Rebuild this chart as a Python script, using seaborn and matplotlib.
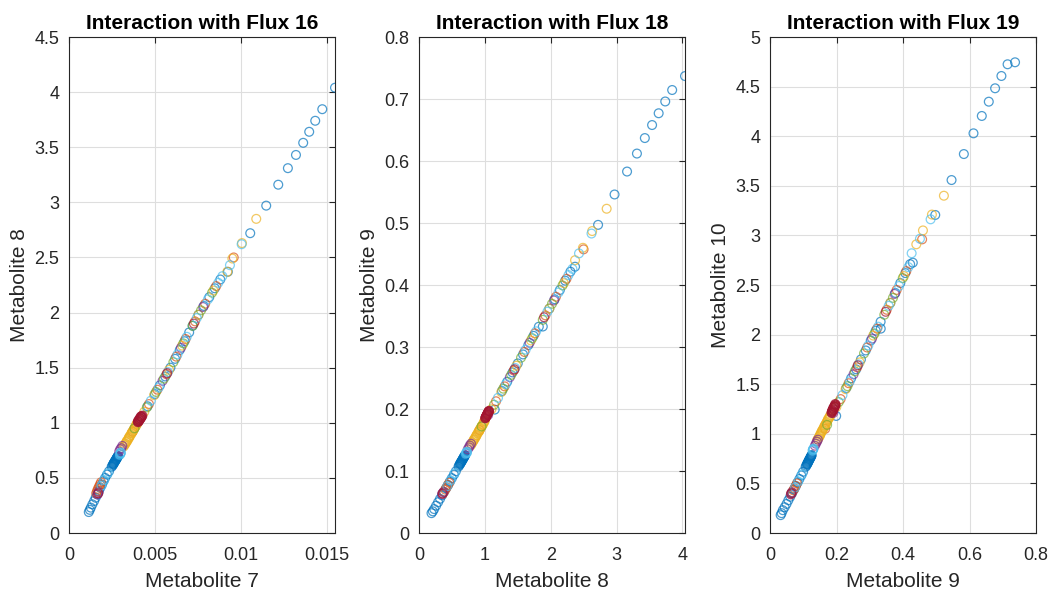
import matplotlib
matplotlib.use("Agg")
import numpy as np
import pandas as pd
import matplotlib.pyplot as plt
import seaborn as sns
from matplotlib.ticker import FixedLocator, FixedFormatter

sns.set_theme(style="white")
plt.rcParams['font.family'] = ['Liberation Sans', 'DejaVu Sans']

# ---------------- data (sample concentrations) ----------------
blue_m8 = [4.04, 3.845, 3.74, 3.64, 3.54, 3.43, 3.31, 3.16, 2.97, 2.72, 2.37,
           2.30, 2.22, 2.14, 2.06, 1.98, 1.88, 1.82, 1.74, 1.66, 1.58, 1.50, 1.42, 1.34, 1.26, 1.15,
           0.70, 0.69, 0.68, 0.67, 0.66, 0.65, 0.64, 0.63, 0.62, 0.60,
           0.695, 0.685, 0.675, 0.665, 0.655, 0.645, 0.635, 0.625, 0.61,
           0.56, 0.53, 0.50, 0.47, 0.44, 0.41, 0.38, 0.35, 0.32, 0.29, 0.26, 0.23, 0.21, 0.19]
blue_m7 = [0.01547, 0.01473, 0.01432, 0.01397, 0.01362, 0.01320, 0.01273, 0.01217, 0.01147, 0.01054, 0.00924,
           0.00880, 0.00848, 0.00816, 0.00784, 0.00753, 0.00719, 0.00699, 0.00672, 0.00644, 0.00617, 0.00590,
           0.00560, 0.00529, 0.00499, 0.00457,
           0.00286, 0.00282, 0.00278, 0.00275, 0.00271, 0.00267, 0.00263, 0.00259, 0.00256, 0.00248,
           0.00283, 0.00281, 0.00276, 0.00273, 0.00269, 0.00265, 0.00261, 0.00258, 0.00252,
           0.00233, 0.00221, 0.00210, 0.00201, 0.00192, 0.00182, 0.00173, 0.00164, 0.00155, 0.00146,
           0.00136, 0.00127, 0.00121, 0.00115]
blue_m9 = [0.737, 0.7145, 0.696, 0.677, 0.658, 0.637, 0.612, 0.583, 0.546, 0.497, 0.4295,
           0.4215, 0.407, 0.392, 0.377, 0.362, 0.333, 0.3327, 0.318, 0.303, 0.288, 0.2735, 0.259, 0.244, 0.229, 0.199,
           0.1255, 0.1237, 0.1218, 0.120, 0.1181, 0.1163, 0.1144, 0.1126, 0.1107, 0.107,
           0.1245, 0.1228, 0.121, 0.119, 0.117, 0.1155, 0.1135, 0.1117, 0.109,
           0.0996, 0.094, 0.0885, 0.083, 0.0774, 0.0719, 0.0663, 0.0608, 0.0552, 0.0497, 0.0441, 0.0386, 0.0349, 0.032]
blue_m10 = [4.745, 4.725, 4.607, 4.483, 4.348, 4.204, 4.029, 3.82, 3.558, 3.206, 2.725,
            2.71, 2.62, 2.52, 2.42, 2.32, 2.06, 2.13, 2.04, 1.94, 1.84, 1.75, 1.65, 1.56, 1.46, 1.18,
            0.786, 0.774, 0.762, 0.75, 0.738, 0.726, 0.714, 0.70, 0.69, 0.666,
            0.78, 0.768, 0.756, 0.744, 0.732, 0.72, 0.707, 0.695, 0.678,
            0.617, 0.58, 0.545, 0.51, 0.473, 0.437, 0.40, 0.365, 0.33, 0.293, 0.26, 0.23, 0.20, 0.18]

orange_m8 = [2.50, 2.24, 2.08, 1.92, 1.76, 1.60, 1.44, 1.30, 1.17, 0.92, 0.46, 0.44, 0.42, 0.40, 0.38, 0.36]
orange_m7 = [0.00958, 0.00856, 0.00792, 0.00733, 0.00678, 0.00624, 0.00567, 0.00514, 0.00465, 0.00370,
             0.00186, 0.00180, 0.00174, 0.00168, 0.00163, 0.00158]
orange_m9 = [0.4575, 0.410, 0.381, 0.351, 0.322, 0.292, 0.262, 0.2365, 0.2125, 0.166,
             0.081, 0.0774, 0.0737, 0.070, 0.0665, 0.063]
orange_m10 = [2.96, 2.64, 2.45, 2.25, 2.06, 1.87, 1.67, 1.51, 1.35, 1.05, 0.50, 0.475, 0.45, 0.43, 0.41, 0.39]

yellow_m8 = [2.85, 2.63, 2.49, 2.37, 2.20, 1.98, 1.70, 1.48, 1.25, 1.10,
             1.00, 0.985, 0.962, 0.943, 0.918, 0.905, 0.877, 0.862, 0.838, 0.824, 0.797, 0.783,
             0.99, 0.97, 0.95, 0.93, 0.91, 0.89, 0.87, 0.85, 0.83, 0.81]
yellow_m7 = [0.01089, 0.01006, 0.00950, 0.00921, 0.00840, 0.00753, 0.00658, 0.00582, 0.00495, 0.00438,
             0.00400, 0.00394, 0.00385, 0.00378, 0.00369, 0.00364, 0.00353, 0.00348, 0.00338, 0.00333, 0.00323, 0.00317,
             0.00393, 0.00389, 0.00380, 0.00374, 0.00365, 0.00359, 0.00350, 0.00344, 0.00336, 0.00328]
yellow_m9 = [0.523, 0.487, 0.460, 0.440, 0.403, 0.362, 0.3105, 0.2698, 0.2273, 0.1995,
             0.181, 0.178, 0.174, 0.170, 0.166, 0.163, 0.158, 0.155, 0.151, 0.148, 0.143, 0.141,
             0.180, 0.175, 0.172, 0.168, 0.164, 0.161, 0.157, 0.153, 0.150, 0.146]
yellow_m10 = [3.40, 3.21, 3.05, 2.91, 2.59, 2.32, 1.99, 1.72, 1.45, 1.27,
              1.186, 1.165, 1.14, 1.115, 1.088, 1.068, 1.04, 1.02, 0.993, 0.972, 0.944, 0.925,
              1.17, 1.15, 1.125, 1.10, 1.08, 1.055, 1.03, 1.005, 0.98, 0.955]

purple_m8 = [2.05, 1.68, 1.38, 1.05, 0.79, 0.77, 0.76, 0.74, 0.37, 0.35]
purple_m7 = [0.00780, 0.00651, 0.00544, 0.00419, 0.00310, 0.00304, 0.00298, 0.00292, 0.00172, 0.00166]
purple_m9 = [0.375, 0.3068, 0.2513, 0.1903, 0.144, 0.141, 0.138, 0.135, 0.066, 0.063]
purple_m10 = [2.41, 1.96, 1.60, 1.21, 0.94, 0.92, 0.90, 0.88, 0.41, 0.39]

green_m8 = [2.18, 2.02, 1.88, 1.72, 1.55, 1.40, 1.28, 1.14, 0.95]
green_m7 = [0.00832, 0.00768, 0.00719, 0.00665, 0.00607, 0.00552, 0.00506, 0.00453, 0.00381]
green_m9 = [0.3993, 0.3697, 0.3438, 0.3142, 0.2828, 0.255, 0.2328, 0.2069, 0.1718]
green_m10 = [2.57, 2.37, 2.20, 2.01, 1.81, 1.63, 1.48, 1.32, 1.09]

cyan_m8 = [2.62, 2.43, 2.33, 2.27, 2.12, 1.95, 1.78, 1.62, 1.46, 1.32, 1.20, 0.73, 0.725, 0.72, 0.71, 0.54, 0.48, 0.43]
cyan_m7 = [0.01004, 0.00936, 0.00892, 0.00868, 0.00808, 0.00743, 0.00685, 0.00631, 0.00575, 0.00522, 0.00476,
           0.00302, 0.00300, 0.00299, 0.00296, 0.00225, 0.00204, 0.00189]
cyan_m9 = [0.483, 0.451, 0.426, 0.416, 0.388, 0.357, 0.3253, 0.2957, 0.2661, 0.2402, 0.218,
           0.131, 0.129, 0.130, 0.128, 0.0959, 0.0848, 0.0756]
cyan_m10 = [3.162, 2.966, 2.82, 2.68, 2.49, 2.29, 2.08, 1.89, 1.70, 1.53, 1.39, 0.85, 0.84, 0.845, 0.83, 0.59, 0.52, 0.46]

red_m8 = [1.062, 1.055, 1.049, 1.040, 1.034, 1.026, 1.019, 1.012, 1.005,
          1.058, 1.044, 1.030, 1.016, 1.065, 1.052, 1.037, 1.023, 1.009,
          1.90, 1.45, 0.36]
red_m7 = [0.00424, 0.00421, 0.00419, 0.00415, 0.00412, 0.00409, 0.00406, 0.00403, 0.00400,
          0.00418, 0.00413, 0.00407, 0.00401, 0.00427, 0.00422, 0.00416, 0.00410, 0.00404,
          0.00726, 0.00571, 0.00170]
red_m9 = [0.197, 0.1955, 0.194, 0.1925, 0.191, 0.1895, 0.188, 0.1865, 0.185,
          0.196, 0.193, 0.190, 0.187, 0.1965, 0.1945, 0.1915, 0.1885, 0.1855,
          0.348, 0.264, 0.064]
red_m10 = [1.295, 1.285, 1.275, 1.265, 1.255, 1.245, 1.235, 1.225, 1.215,
           1.30, 1.275, 1.26, 1.235, 1.285, 1.27, 1.245, 1.225, 1.21,
           2.23, 1.69, 0.40]

group_names = ["blue", "orange", "yellow", "purple", "green", "cyan", "red"]
group_colors = ["#0072BD", "#D95319", "#EDB120", "#7E2F8E", "#77AC30", "#4DBEEE", "#A2142F"]

titles = ["Interaction with Flux 16", "Interaction with Flux 18", "Interaction with Flux 19"]
xlabels = ["Metabolite 7", "Metabolite 8", "Metabolite 9"]
ylabels = ["Metabolite 8", "Metabolite 9", "Metabolite 10"]

x1_ticks = [0, 0.005, 0.01, 0.015]
x1_labels = ["0", "0.005", "0.01", "0.015"]
y1_ticks = [0, 0.5, 1, 1.5, 2, 2.5, 3, 3.5, 4, 4.5]
y1_labels = ["0", "0.5", "1", "1.5", "2", "2.5", "3", "3.5", "4", "4.5"]
x2_ticks = [0, 1, 2, 3, 4]
x2_labels = ["0", "1", "2", "3", "4"]
y2_ticks = [0, 0.1, 0.2, 0.3, 0.4, 0.5, 0.6, 0.7, 0.8]
y2_labels = ["0", "0.1", "0.2", "0.3", "0.4", "0.5", "0.6", "0.7", "0.8"]
x3_ticks = [0, 0.2, 0.4, 0.6, 0.8]
x3_labels = ["0", "0.2", "0.4", "0.6", "0.8"]
y3_ticks = [0, 0.5, 1, 1.5, 2, 2.5, 3, 3.5, 4, 4.5, 5]
y3_labels = ["0", "0.5", "1", "1.5", "2", "2.5", "3", "3.5", "4", "4.5", "5"]

# ---------------- build table ----------------
groups = {
    "blue": (blue_m7, blue_m8, blue_m9, blue_m10),
    "orange": (orange_m7, orange_m8, orange_m9, orange_m10),
    "yellow": (yellow_m7, yellow_m8, yellow_m9, yellow_m10),
    "purple": (purple_m7, purple_m8, purple_m9, purple_m10),
    "green": (green_m7, green_m8, green_m9, green_m10),
    "cyan": (cyan_m7, cyan_m8, cyan_m9, cyan_m10),
    "red": (red_m7, red_m8, red_m9, red_m10),
}
frames = []
for name in group_names:
    a, b, c, d = groups[name]
    frames.append(pd.DataFrame({"m7": a, "m8": b, "m9": c, "m10": d, "group": name}))
df = pd.concat(frames, ignore_index=True)
palette = dict(zip(group_names, group_colors))

# ---------------- figure ----------------
fig = plt.figure(figsize=(10.52, 5.92), dpi=100)
lefts = [69 / 1052, 419 / 1052, 770 / 1052]
bottom = 59 / 592
width = 266 / 1052
height = 496 / 592

panels = [
    ("m7", "m8", (0, 0.01547), (0, 4.5), x1_ticks, x1_labels, y1_ticks, y1_labels),
    ("m8", "m9", (0, 4.04), (0, 0.8), x2_ticks, x2_labels, y2_ticks, y2_labels),
    ("m9", "m10", (0, 0.8), (0, 5), x3_ticks, x3_labels, y3_ticks, y3_labels),
]

txt = "#262626"
for i, (xv, yv, xl, yl, xt, xtl, yt, ytl) in enumerate(panels):
    ax = fig.add_axes([lefts[i], bottom, width, height])
    sns.scatterplot(data=df, x=xv, y=yv, hue="group", palette=palette, s=40,
                    alpha=0.7, linewidth=0.9, legend=False, ax=ax, zorder=3)
    coll = ax.collections[-1]
    fc = coll.get_facecolors()
    coll.set_edgecolors(fc)
    coll.set_facecolors("none")

    ax.set_xlim(*xl)
    ax.set_ylim(*yl)
    ax.xaxis.set_major_locator(FixedLocator(xt))
    ax.xaxis.set_major_formatter(FixedFormatter(xtl))
    ax.yaxis.set_major_locator(FixedLocator(yt))
    ax.yaxis.set_major_formatter(FixedFormatter(ytl))
    ax.grid(True, color="#dedede", linewidth=0.8)
    ax.set_axisbelow(True)
    for sp in ax.spines.values():
        sp.set_visible(True)
        sp.set_color(txt)
        sp.set_linewidth(0.8)
    ax.tick_params(direction="in", top=True, right=True, length=4, width=0.8,
                   colors=txt, labelsize=13)
    ax.tick_params(axis="x", pad=10)
    ax.tick_params(axis="y", pad=7)
    ax.set_xlabel(xlabels[i], fontsize=15, color=txt, labelpad=6)
    ax.set_ylabel(ylabels[i], fontsize=15, color=txt, labelpad=4)
    ax.set_title(titles[i], fontsize=15, fontweight="bold", color="black", pad=6)

fig.savefig("out.png", dpi=100)
